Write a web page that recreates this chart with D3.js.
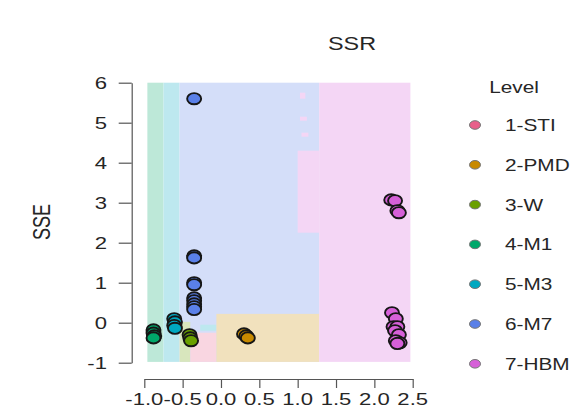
<!DOCTYPE html>
<html>
<head>
<meta charset="utf-8">
<script src="https://cdn.jsdelivr.net/npm/d3@7"></script>
<style>
  body { margin: 0; background: #fff; }
  text { font-family: "Liberation Sans", Arial, sans-serif; fill: #262626; }
  .axis path, .axis line { stroke: #555; stroke-width: 1.2; }
</style>
</head>
<body>
<svg id="chart" width="578" height="416"></svg>
<script>

////////////////////////// DATA //////////////////////////

const levels = ['1-STI', '2-PMD', '3-W', '4-M1', '5-M3', '6-M7', '7-HBM']
const levelColors = ['#e8608a', '#c88a00', '#6aa000', '#00a86a', '#00a8c0', '#5a80e8', '#d660d8']

const xTicks = [-1.0, -0.5, 0.0, 0.5, 1.0, 1.5, 2.0, 2.5]
const yTicks = [-1, 0, 1, 2, 3, 4, 5, 6]

// decision regions: [xmin, xmax, ymin, ymax, level index]
const regions = [
  [-0.96, -0.75, -0.98, 6.0, 3],
  [-0.75, -0.54, -0.98, 6.0, 4],
  [-0.54, 1.28, -0.98, 6.0, 5],
  [-0.54, -0.40, -0.98, 0.02, 2],
  [-0.40, -0.06, -0.98, -0.25, 0],
  [-0.27, -0.06, -0.20, -0.05, 4],
  [-0.06, 1.28, -0.98, 0.22, 1],
  [1.28, 2.47, -0.98, 6.0, 6],
  [1.00, 1.28, 2.25, 4.30, 6],
  [1.03, 1.10, 5.60, 5.75, 6],
  [1.03, 1.12, 5.05, 5.15, 6],
  [1.05, 1.14, 4.65, 4.75, 6]
]

// points per level
const ptsSTI = []
const ptsPMD = [[0.30, -0.28], [0.33, -0.33], [0.35, -0.38]]
const ptsW = [[-0.41, -0.30], [-0.40, -0.38], [-0.39, -0.45]]
const ptsM1 = [[-0.88, -0.18], [-0.88, -0.26], [-0.87, -0.33], [-0.88, -0.38]]
const ptsM3 = [[-0.61, 0.10], [-0.60, 0.02], [-0.61, -0.07], [-0.60, -0.14]]
const ptsM7 = [[-0.35, 5.6], [-0.35, 1.67], [-0.35, 1.62], [-0.35, 1.0], [-0.35, 0.95],
  [-0.35, 0.62], [-0.35, 0.55], [-0.35, 0.47], [-0.35, 0.40], [-0.35, 0.33]]
const ptsHBM = [[2.22, 3.07], [2.27, 3.05], [2.30, 2.80], [2.32, 2.75],
  [2.23, 0.25], [2.28, 0.10], [2.25, -0.10], [2.30, -0.10], [2.27, -0.20],
  [2.32, -0.30], [2.28, -0.45], [2.33, -0.50], [2.30, -0.52]]

const pointSets = [ptsSTI, ptsPMD, ptsW, ptsM1, ptsM3, ptsM7, ptsHBM]

////////////////////////// SETUP //////////////////////////

const svg = d3.select('#chart')
const sx = 1.3   // text / markers are horizontally stretched

const xScale = d3.scaleLinear().domain([-1, 2.5]).range([144.3, 412.7])
const yScale = d3.scaleLinear().domain([-1, 6]).range([362.7, 82.7])

// light tint of a level colour over white
const tint = (c, a) => {
  const k = d3.color(c)
  return d3.rgb(255 - a * (255 - k.r), 255 - a * (255 - k.g), 255 - a * (255 - k.b)).formatHex()
}

////////////////////////// REGIONS //////////////////////////

svg.append('g')
  .selectAll('rect')
  .data(regions)
  .enter()
  .append('rect')
  .attr('x', (d) => xScale(d[0]))
  .attr('y', (d) => yScale(d[3]))
  .attr('width', (d) => xScale(d[1]) - xScale(d[0]))
  .attr('height', (d) => yScale(d[2]) - yScale(d[3]))
  .attr('fill', (d) => tint(levelColors[d[4]], 0.26))

////////////////////////// AXES //////////////////////////

svg.append('g')
  .attr('class', 'axis')
  .attr('transform', 'translate(131.7,0)')
  .call(d3.axisLeft(yScale).tickValues(yTicks).tickSize(13).tickSizeOuter(0).tickFormat(''))

svg.append('g')
  .attr('class', 'axis')
  .attr('transform', 'translate(0,379)')
  .call(d3.axisBottom(xScale).tickValues(xTicks).tickSize(9).tickSizeOuter(0).tickFormat(''))

svg.selectAll('.axis .domain').attr('fill', 'none')

svg.append('g')
  .selectAll('text')
  .data(yTicks)
  .enter()
  .append('text')
  .attr('transform', (d) => `translate(107,${yScale(d) + 6.5}) scale(${sx},1)`)
  .attr('text-anchor', 'end')
  .style('font-size', '17px')
  .text((d) => d)

svg.append('g')
  .selectAll('text')
  .data(xTicks)
  .enter()
  .append('text')
  .attr('transform', (d) => `translate(${xScale(d)},405) scale(${sx},1)`)
  .attr('text-anchor', 'middle')
  .style('font-size', '17px')
  .text((d) => d.toFixed(1))

// titles
svg.append('text')
  .attr('transform', `translate(352,50) scale(${sx},1)`)
  .attr('text-anchor', 'middle')
  .style('font-size', '18px')
  .text('SSR')

svg.append('text')
  .attr('transform', `translate(50,222) rotate(-90) scale(1,${sx})`)
  .attr('text-anchor', 'middle')
  .style('font-size', '18px')
  .text('SSE')

////////////////////////// POINTS //////////////////////////

const points = []
pointSets.forEach((set, i) => set.forEach((p) => points.push({ x: p[0], y: p[1], level: i })))

svg.append('g')
  .selectAll('ellipse')
  .data(points)
  .enter()
  .append('ellipse')
  .attr('cx', (d) => xScale(d.x))
  .attr('cy', (d) => yScale(d.y))
  .attr('rx', 7)
  .attr('ry', 5.6)
  .attr('fill', (d) => levelColors[d.level])
  .attr('stroke', '#161616')
  .attr('stroke-width', 1.9)

////////////////////////// LEGEND //////////////////////////

svg.append('text')
  .attr('transform', `translate(514,93) scale(${sx},1)`)
  .attr('text-anchor', 'middle')
  .style('font-size', '16px')
  .text('Level')

const legend = svg.append('g')
  .selectAll('g')
  .data(levels)
  .enter()
  .append('g')
  .attr('transform', (d, i) => `translate(0,${125 + i * 39.8})`)

legend.append('ellipse')
  .attr('cx', 475)
  .attr('cy', 0)
  .attr('rx', 5.5)
  .attr('ry', 4.3)
  .attr('fill', (d, i) => levelColors[i])
  .attr('stroke', '#777')
  .attr('stroke-width', 1)

legend.append('text')
  .attr('transform', `translate(505,6) scale(${sx},1)`)
  .style('font-size', '16px')
  .text((d) => d)

</script>
</body>
</html>
